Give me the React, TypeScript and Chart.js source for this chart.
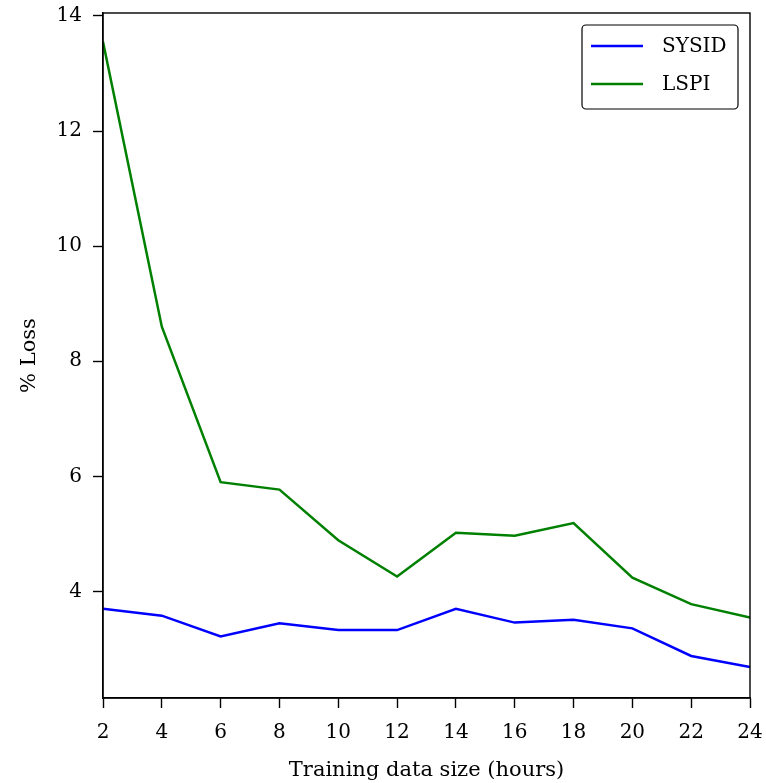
import React, { useEffect, useRef } from "react";
import { Chart, registerables } from "chart.js";

Chart.register(...registerables);

// Training data size in hours
const hours = [2, 4, 6, 8, 10, 12, 14, 16, 18, 20, 22, 24];
// Percent loss per method
const sysidLoss = [3.70, 3.58, 3.22, 3.45, 3.33, 3.33, 3.70, 3.46, 3.51, 3.36, 2.88, 2.69];
const lspiLoss = [13.55, 8.60, 5.90, 5.77, 4.89, 4.26, 5.02, 4.97, 5.19, 4.24, 3.78, 3.55];
const xTicks = [2, 4, 6, 8, 10, 12, 14, 16, 18, 20, 22, 24];
const yTicks = [4, 6, 8, 10, 12, 14];

const FONT = "'DejaVu Serif', serif";
const LINE_W = 2.5;

// Frame around the plot area plus an upper-right legend box
const framePlugin = {
  id: "frameAndLegend",
  afterDatasetsDraw(chart: any) {
    const { ctx, chartArea } = chart;
    ctx.save();
    ctx.strokeStyle = "#000";
    ctx.lineWidth = 1.4;
    ctx.strokeRect(chartArea.left, chartArea.top, chartArea.right - chartArea.left, chartArea.bottom - chartArea.top);

    const boxW = 156;
    const boxH = 84;
    const bx = chartArea.right - 12 - boxW;
    const by = chartArea.top + 12;
    const r = 4;
    ctx.beginPath();
    ctx.moveTo(bx + r, by);
    ctx.lineTo(bx + boxW - r, by);
    ctx.arcTo(bx + boxW, by, bx + boxW, by + r, r);
    ctx.lineTo(bx + boxW, by + boxH - r);
    ctx.arcTo(bx + boxW, by + boxH, bx + boxW - r, by + boxH, r);
    ctx.lineTo(bx + r, by + boxH);
    ctx.arcTo(bx, by + boxH, bx, by + boxH - r, r);
    ctx.lineTo(bx, by + r);
    ctx.arcTo(bx, by, bx + r, by, r);
    ctx.closePath();
    ctx.fillStyle = "rgba(255,255,255,0.9)";
    ctx.fill();
    ctx.lineWidth = 1.2;
    ctx.strokeStyle = "#000";
    ctx.stroke();

    ctx.font = `20px ${FONT}`;
    ctx.textBaseline = "middle";
    ctx.textAlign = "left";
    chart.data.datasets.forEach((ds: any, i: number) => {
      const y = by + 21 + i * 38;
      ctx.beginPath();
      ctx.strokeStyle = ds.borderColor;
      ctx.lineWidth = LINE_W;
      ctx.moveTo(bx + 9, y);
      ctx.lineTo(bx + 61, y);
      ctx.stroke();
      ctx.fillStyle = "#000";
      ctx.fillText(ds.label, bx + 80, y + 1);
    });
    ctx.restore();
  },
};

// Drop the automatic label-overflow padding so the layout padding alone sets the plot area
const noOverflowPadding = (scale: any) => {
  scale.paddingTop = 0;
  scale.paddingBottom = 0;
  scale.paddingLeft = 0;
  scale.paddingRight = 0;
};

export default function App() {
  const canvasRef = useRef<HTMLCanvasElement | null>(null);

  useEffect(() => {
    document.body.style.margin = "0";
    const canvas = canvasRef.current;
    if (!canvas) return;
    const chart = new Chart(canvas, {
      type: "line",
      data: {
        datasets: [
          {
            label: "SYSID",
            data: hours.map((h, i) => ({ x: h, y: sysidLoss[i] })),
            borderColor: "#0000ff",
            borderWidth: LINE_W,
            pointRadius: 0,
            tension: 0,
            fill: false,
          },
          {
            label: "LSPI",
            data: hours.map((h, i) => ({ x: h, y: lspiLoss[i] })),
            borderColor: "#008000",
            borderWidth: LINE_W,
            pointRadius: 0,
            tension: 0,
            fill: false,
          },
        ],
      },
      options: {
        responsive: false,
        animation: false,
        layout: { padding: { top: 13, right: 16, left: 0, bottom: 0 } },
        plugins: {
          legend: { display: false },
          tooltip: { enabled: false },
        },
        scales: {
          x: {
            type: "linear",
            min: 2,
            max: 24,
            afterBuildTicks: (scale: any) => {
              scale.ticks = xTicks.map((v) => ({ value: v }));
            },
            afterFit: (scale: any) => {
              scale.height = 85;
              noOverflowPadding(scale);
            },
            grid: {
              display: true,
              drawOnChartArea: false,
              drawTicks: true,
              tickLength: 10,
              tickWidth: 1.4,
              tickColor: "#000",
            },
            border: { display: true, color: "#000", width: 1.4 },
            ticks: {
              color: "#000",
              font: { family: FONT, size: 20 },
              padding: 13,
              maxRotation: 0,
              autoSkip: false,
            },
            title: {
              display: true,
              text: "Training data size (hours)",
              color: "#000",
              font: { family: FONT, size: 21 },
              padding: { top: 0, bottom: 0 },
            },
          },
          y: {
            type: "linear",
            min: 2.15,
            max: 14.05,
            afterBuildTicks: (scale: any) => {
              scale.ticks = yTicks.map((v) => ({ value: v }));
            },
            afterFit: (scale: any) => {
              scale.width = 103;
              noOverflowPadding(scale);
            },
            grid: {
              display: true,
              drawOnChartArea: false,
              drawTicks: true,
              tickLength: 10,
              tickWidth: 1.4,
              tickColor: "#000",
            },
            border: { display: true, color: "#000", width: 1.4 },
            ticks: {
              color: "#000",
              font: { family: FONT, size: 20 },
              padding: 11,
              autoSkip: false,
            },
            title: {
              display: true,
              text: "% Loss",
              color: "#000",
              font: { family: FONT, size: 21 },
              padding: { top: 17, bottom: 0 },
            },
          },
        },
      },
      plugins: [framePlugin],
    });
    return () => chart.destroy();
  }, []);

  return (
    <div style={{ position: "relative", width: 766, height: 783 }}>
      <canvas ref={canvasRef} width={766} height={783} style={{ display: "block" }} />
    </div>
  );
}
